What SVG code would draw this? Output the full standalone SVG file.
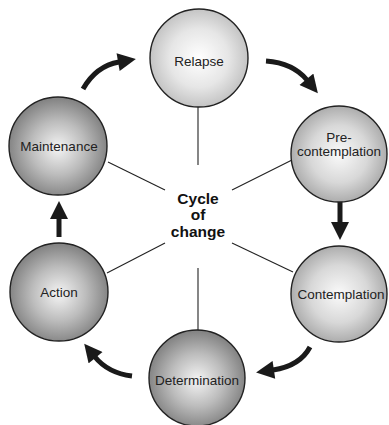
<svg xmlns="http://www.w3.org/2000/svg" width="389" height="425" viewBox="0 0 389 425">
  <defs>
    <radialGradient id="gLight" cx="50%" cy="50%" r="50%">
      <stop offset="0" stop-color="#ffffff"/>
      <stop offset="0.6" stop-color="#e6e6e6"/>
      <stop offset="1" stop-color="#c4c4c4"/>
    </radialGradient>
    <radialGradient id="gMid" cx="50%" cy="50%" r="50%">
      <stop offset="0" stop-color="#fafafa"/>
      <stop offset="0.6" stop-color="#d8d8d8"/>
      <stop offset="1" stop-color="#adadad"/>
    </radialGradient>
    <radialGradient id="gDark" cx="50%" cy="52%" r="50%">
      <stop offset="0" stop-color="#f4f4f4"/>
      <stop offset="0.55" stop-color="#bcbcbc"/>
      <stop offset="1" stop-color="#858585"/>
    </radialGradient>
    <marker id="head" viewBox="0 0 10 10" refX="0.5" refY="5" markerUnits="userSpaceOnUse" markerWidth="19" markerHeight="18" orient="auto">
      <path d="M0,0 L10,5 L0,10 z" fill="#1a1a1a"/>
    </marker>
    <style>
      .node { stroke: #222; stroke-width: 1.4; }
      .lbl { font-family: "Liberation Sans", Arial, sans-serif; font-size: 13.5px; fill: #222; text-anchor: middle; }
      .hub { font-family: "Liberation Sans", Arial, sans-serif; font-size: 15.5px; font-weight: bold; fill: #111; text-anchor: middle; }
      .spoke { stroke: #222; stroke-width: 1.1; fill: none; }
      .arrow { stroke: #1a1a1a; stroke-width: 5; fill: none; marker-end: url(#head); }
    </style>
  </defs>

  <g id="connectors">
    <!-- spokes from the hub to each stage -->
    <line class="spoke" x1="198" y1="107" x2="198" y2="165"/>
    <line class="spoke" x1="232" y1="190" x2="292" y2="160"/>
    <line class="spoke" x1="232" y1="243" x2="293" y2="272"/>
    <line class="spoke" x1="198" y1="268" x2="198" y2="330"/>
    <line class="spoke" x1="165" y1="243" x2="107" y2="273"/>
    <line class="spoke" x1="165" y1="190" x2="108" y2="162"/>
    <!-- flow arrows around the cycle -->
    <path class="arrow" d="M83,89 Q96,66 119,62"/>
    <path class="arrow" d="M266,61 Q293,63 307,80"/>
    <path class="arrow" d="M340,200 L340,223"/>
    <path class="arrow" d="M310,347 Q300,366 273,370"/>
    <path class="arrow" d="M132,376 Q108,373 95,357"/>
    <path class="arrow" d="M59,237 L59,218"/>
  </g>

  <g id="hub">
    <text class="hub" x="198" y="204">Cycle</text>
    <text class="hub" x="198" y="220">of</text>
    <text class="hub" x="198" y="237">change</text>
  </g>

  <g id="relapse">
    <circle class="node" cx="199" cy="58" r="49" fill="url(#gLight)"/>
    <text class="lbl" x="199" y="66">Relapse</text>
  </g>
  <g id="precontemplation">
    <circle class="node" cx="339" cy="154" r="48" fill="url(#gMid)"/>
    <text class="lbl" x="339" y="142">Pre-</text>
    <text class="lbl" x="339" y="156">contemplation</text>
  </g>
  <g id="contemplation">
    <circle class="node" cx="339" cy="294" r="48" fill="url(#gMid)"/>
    <text class="lbl" x="341" y="299">Contemplation</text>
  </g>
  <g id="determination">
    <circle class="node" cx="197" cy="378" r="48" fill="url(#gDark)"/>
    <text class="lbl" x="197" y="385">Determination</text>
  </g>
  <g id="action">
    <circle class="node" cx="59" cy="292" r="49" fill="url(#gDark)"/>
    <text class="lbl" x="59" y="297">Action</text>
  </g>
  <g id="maintenance">
    <circle class="node" cx="58" cy="146" r="49" fill="url(#gDark)"/>
    <text class="lbl" x="59" y="151">Maintenance</text>
  </g>
</svg>
